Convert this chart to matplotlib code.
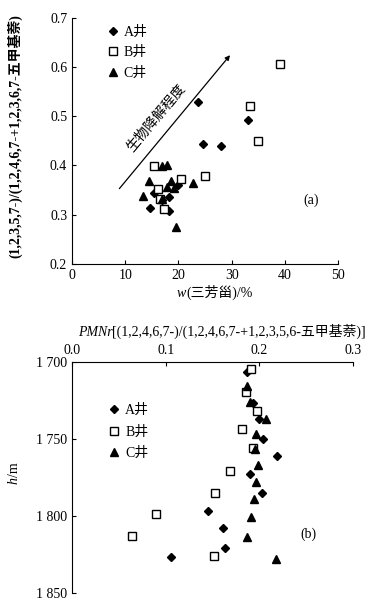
import matplotlib
matplotlib.use("Agg")
import matplotlib.pyplot as plt

plt.rcParams['font.family'] = ['Liberation Serif', 'Noto Sans CJK SC']

# ================================
# Data (a)
# ================================
a_x = [23.7, 33.1, 24.6, 28.0, 14.6, 18.2, 15.5, 17.0, 18.3, 20.0]
a_y = [0.529, 0.492, 0.444, 0.439, 0.313, 0.307, 0.345, 0.330, 0.337, 0.361]
b_x = [39.0, 33.5, 35.0, 25.0, 20.4, 15.4, 16.1, 16.5, 17.3]
b_y = [0.607, 0.520, 0.450, 0.379, 0.373, 0.399, 0.353, 0.332, 0.311]
c_x = [13.3, 14.5, 16.9, 17.9, 18.6, 17.8, 19.2, 16.9, 22.8, 19.5]
c_y = [0.339, 0.368, 0.398, 0.402, 0.368, 0.356, 0.354, 0.332, 0.364, 0.276]

# ================================
# Data (b)
# ================================
a_r = [0.187, 0.193, 0.199, 0.204, 0.219, 0.190, 0.203, 0.145, 0.161, 0.163, 0.106]
a_h = [1707, 1727, 1737, 1750, 1761, 1773, 1785, 1797, 1808, 1821, 1827]
b_r = [0.191, 0.186, 0.197, 0.181, 0.193, 0.169, 0.153, 0.090, 0.064, 0.152]
b_h = [1705, 1720, 1732, 1744, 1756, 1771, 1785, 1799, 1813, 1826]
c_r = [0.187, 0.190, 0.207, 0.196, 0.195, 0.198, 0.196, 0.194, 0.191, 0.187, 0.218]
c_h = [1716, 1726, 1737, 1747, 1757, 1767, 1778, 1789, 1801, 1814, 1828]

labels = ["A井", "B井", "C井"]
fs = 10


def chained_label(ax, x, y, parts, **kw):
    # parts: list of (text, style); first part anchored at (x, y) in axes coords
    t = ax.text(x, y, parts[0][0], style=parts[0][1], transform=ax.transAxes,
                ha='left', va='baseline', **kw)
    for txt, st in parts[1:]:
        t = ax.annotate(txt, xy=(1, 0), xycoords=t, style=st,
                        ha='left', va='bottom', annotation_clip=False, **kw)
    return t


fig = plt.figure(figsize=(3.74, 6.03), dpi=100)

# ---------- (a) ----------
ax1 = fig.add_axes([0.1925, 0.5622, 0.7115, 0.4084])
ax1.plot(a_x, a_y, 'D', color='black', ms=4.5, label=labels[0])
ax1.plot(b_x, b_y, 's', mfc='white', mec='black', mew=1.0, ms=6, label=labels[1])
ax1.plot(c_x, c_y, '^', color='black', ms=6, label=labels[2])
ax1.set_xlim(0, 50)
ax1.set_ylim(0.2, 0.7)
ax1.set_xticks([0, 10, 20, 30, 40, 50])
ax1.set_yticks([0.2, 0.3, 0.4, 0.5, 0.6, 0.7])
ax1.set_yticklabels(["0.2", "0.3", "0.4", "0.5", "0.6", "0.7"])
ax1.spines['top'].set_visible(False)
ax1.spines['right'].set_visible(False)
ax1.tick_params(direction='in', length=3, labelsize=fs)
chained_label(ax1, 0.395, -0.135, [("w", 'italic'), ("(三芳甾)/%", 'normal')], fontsize=fs)
ax1.set_ylabel("(1,2,3,5,7-)/(1,2,4,6,7-+1,2,3,6,7-五甲基萘)", fontsize=10, fontweight='bold')
ax1.yaxis.set_label_coords(-0.185, 0.52)
ax1.legend(loc='upper left', bbox_to_anchor=(0.08, 1.02), frameon=False,
           fontsize=fs, handletextpad=0.3, labelspacing=0.55, handlelength=1.0)
ax1.annotate("", xy=(29.7, 0.624), xytext=(8.9, 0.353),
             arrowprops=dict(arrowstyle='-|>', color='black', lw=0.9, mutation_scale=7,
                             shrinkA=0, shrinkB=0))
ax1.text(15.9, 0.497, "生物降解程度", rotation=50, fontsize=10,
         ha='center', va='center', rotation_mode='anchor')
ax1.text(45, 0.33, "(a)", fontsize=fs, ha='center', va='center')

# ---------- (b) ----------
ax2 = fig.add_axes([0.1925, 0.0171, 0.752, 0.3831])
ax2.plot(a_r, a_h, 'D', color='black', ms=4.5, label=labels[0])
ax2.plot(b_r, b_h, 's', mfc='white', mec='black', mew=1.0, ms=6, label=labels[1])
ax2.plot(c_r, c_h, '^', color='black', ms=6, label=labels[2])
ax2.set_xlim(0, 0.3)
ax2.set_ylim(1850, 1700)
ax2.xaxis.tick_top()
ax2.set_xticks([0.0, 0.1, 0.2, 0.3])
ax2.set_xticklabels(["0.0", "0.1", "0.2", "0.3"])
ax2.set_yticks([1700, 1750, 1800, 1850])
ax2.set_yticklabels(["1 700", "1 750", "1 800", "1 850"])
ax2.spines['bottom'].set_visible(False)
ax2.spines['right'].set_visible(False)
ax2.tick_params(direction='in', length=3, labelsize=fs)
chained_label(ax2, 0.02, 1.11, [("PMNr", 'italic'),
                                ("[(1,2,4,6,7-)/(1,2,4,6,7-+1,2,3,5,6-五甲基萘)]", 'normal')],
              fontsize=fs)
t = ax2.text(-0.205, 0.47, "h", style='italic', rotation=90, transform=ax2.transAxes,
             fontsize=fs, ha='center', va='bottom')
ax2.annotate("/m", xy=(0.5, 1), xycoords=t, rotation=90, fontsize=fs,
             ha='center', va='bottom', annotation_clip=False)
ax2.legend(loc='upper left', bbox_to_anchor=(0.08, 0.87), frameon=False,
           fontsize=fs, handletextpad=0.3, labelspacing=0.6, handlelength=1.0)
ax2.text(0.252, 1812, "(b)", fontsize=fs, ha='center', va='center')

fig.savefig("out.png", dpi=100)
